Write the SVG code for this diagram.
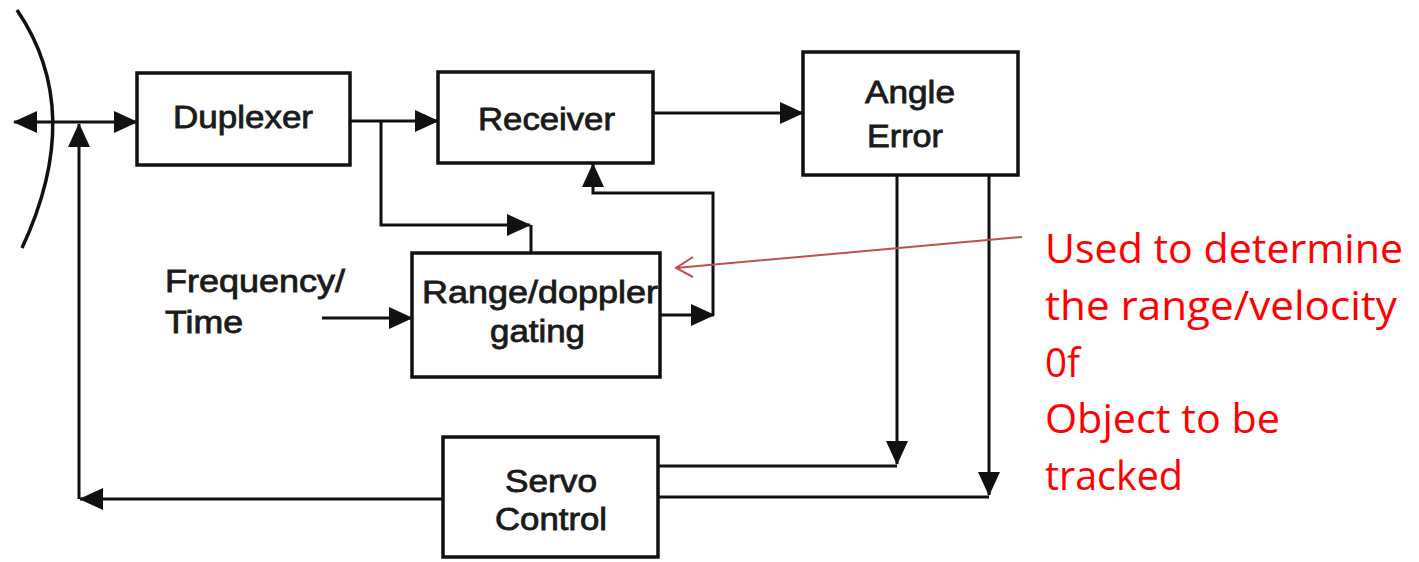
<svg xmlns="http://www.w3.org/2000/svg" width="1419" height="562" viewBox="0 0 1419 562">
<defs>
<style>
.box{fill:#fff;stroke:#111;stroke-width:3.5}
.ln{fill:none;stroke:#111;stroke-width:3}
.lbl{font-family:"Liberation Sans",Arial,sans-serif;font-size:31px;fill:#1a1a1a;stroke:#1a1a1a;stroke-width:0.8}
.note{font-family:"Open Sans","Noto Sans",sans-serif;font-size:40px;fill:#ff0000}
.ann{fill:none;stroke:#c0504d;stroke-width:2}
</style>
<marker id="ah" markerUnits="userSpaceOnUse" markerWidth="24" markerHeight="22" refX="23" refY="11" orient="auto-start-reverse">
<path d="M0,0 L24,11 L0,22 z" fill="#111"/>
</marker>
</defs>
<rect width="1419" height="562" fill="#fff"/>
<path d="M17,10 Q86,111 22,248" fill="none" stroke="#111" stroke-width="3.5"/>
<g id="connectors">
<path class="ln" d="M14,122 H137" marker-start="url(#ah)" marker-end="url(#ah)"/>
<path class="ln" d="M350,121 H438" marker-end="url(#ah)"/>
<path class="ln" d="M381,121 V225 H530" marker-end="url(#ah)"/>
<path class="ln" d="M531,225 V253"/>
<path class="ln" d="M653,113 H803" marker-end="url(#ah)"/>
<path class="ln" d="M660,315 H714" marker-end="url(#ah)"/>
<path class="ln" d="M713,315 V193 H593 V164" marker-end="url(#ah)"/>
<path class="ln" d="M322,318 H412" marker-end="url(#ah)"/>
<path class="ln" d="M897,175 V464" marker-end="url(#ah)"/>
<path class="ln" d="M657,466 H897"/>
<path class="ln" d="M989,175 V495" marker-end="url(#ah)"/>
<path class="ln" d="M657,497 H989"/>
<path class="ln" d="M443,499 H80" marker-end="url(#ah)"/>
<path class="ln" d="M79,499 V124" marker-end="url(#ah)"/>
<path class="ann" d="M1022,237 L676,268 M693,257 L676,268 L693,277"/>
</g>
<g id="duplexer">
<rect class="box" x="137" y="73" width="213" height="92"/>
<text class="lbl" x="173" y="128" textLength="140" lengthAdjust="spacingAndGlyphs">Duplexer</text>
</g>
<g id="receiver">
<rect class="box" x="438" y="72" width="215" height="91"/>
<text class="lbl" x="478" y="130" textLength="137" lengthAdjust="spacingAndGlyphs">Receiver</text>
</g>
<g id="angle-error">
<rect class="box" x="803" y="52" width="215" height="123"/>
<text class="lbl" x="865" y="103" textLength="90" lengthAdjust="spacingAndGlyphs">Angle</text>
<text class="lbl" x="867" y="147" textLength="76" lengthAdjust="spacingAndGlyphs">Error</text>
</g>
<g id="range-gating">
<rect class="box" x="412" y="253" width="248" height="124"/>
<text class="lbl" x="422" y="303" textLength="236" lengthAdjust="spacingAndGlyphs">Range/doppler</text>
<text class="lbl" x="490" y="342" textLength="95" lengthAdjust="spacingAndGlyphs">gating</text>
</g>
<g id="freq-time">
<text class="lbl" x="165" y="292" textLength="180" lengthAdjust="spacingAndGlyphs">Frequency/</text>
<text class="lbl" x="165" y="333" textLength="78" lengthAdjust="spacingAndGlyphs">Time</text>
</g>
<g id="servo-control">
<rect class="box" x="443" y="437" width="215" height="120"/>
<text class="lbl" x="505" y="492" textLength="92" lengthAdjust="spacingAndGlyphs">Servo</text>
<text class="lbl" x="495" y="530" textLength="112" lengthAdjust="spacingAndGlyphs">Control</text>
</g>
<g id="note">
<text class="note" x="1045" y="263" textLength="358" lengthAdjust="spacingAndGlyphs">Used to determine</text>
<text class="note" x="1045" y="320" textLength="352" lengthAdjust="spacingAndGlyphs">the range/velocity</text>
<text class="note" x="1045" y="377" textLength="35" lengthAdjust="spacingAndGlyphs">0f</text>
<text class="note" x="1045" y="433" textLength="235" lengthAdjust="spacingAndGlyphs">Object to be</text>
<text class="note" x="1045" y="490" textLength="138" lengthAdjust="spacingAndGlyphs">tracked</text>
</g>
</svg>
